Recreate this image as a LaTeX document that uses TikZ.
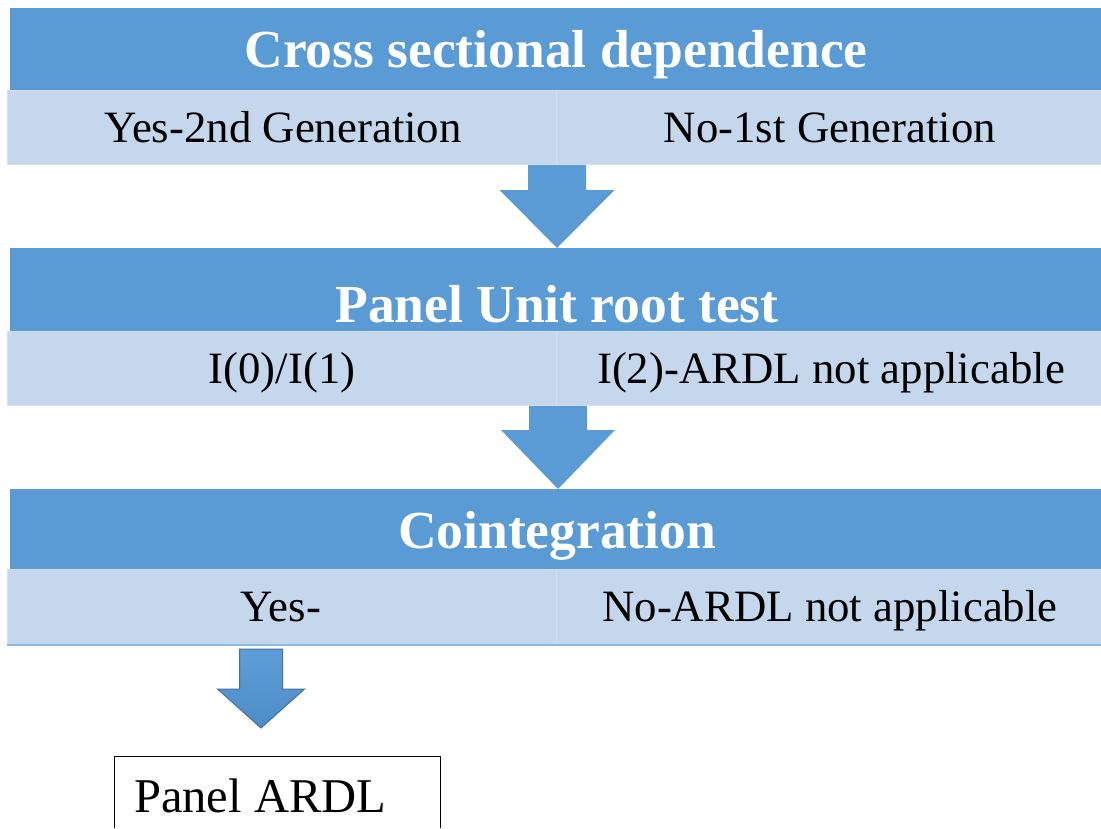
\documentclass[tikz,border=0pt]{standalone}
\usepackage{fontspec}
\setmainfont{Liberation Serif}
\usetikzlibrary{calc}
\definecolor{hdr}{HTML}{5B9BD5}
\definecolor{cell}{HTML}{C5D7EC}
\definecolor{celledge}{HTML}{D3E0F0}
\definecolor{arrowedge}{HTML}{41719C}
\definecolor{arrowtop}{HTML}{5E9DD8}
\definecolor{arrowbot}{HTML}{4E8CC8}
\newcommand{\blkarrow}[6]{%
  \path[#1] ($(#2)+(-#4,0)$) -- ($(#3)+(-#4,-#6)$) -- ($(#3)+(-#5,-#6)$) -- (#3)
    -- ($(#3)+(#5,-#6)$) -- ($(#3)+(#4,-#6)$) -- ($(#2)+(#4,0)$) -- cycle;}
\begin{document}
\begin{tikzpicture}[x=1pt,y=-1pt,
  hdrbox/.style={fill=hdr, draw=none, minimum width=1091pt, inner sep=0pt, anchor=north west},
  cellbox/.style={fill=cell, draw=celledge, line width=1pt, inner sep=0pt, anchor=north west},
  hdrtext/.style={text=white, font=\fontsize{53.5}{60}\selectfont\bfseries, inner sep=0pt, anchor=base},
  celltext/.style={text=black, font=\fontsize{44.8}{50}\selectfont, inner sep=0pt, anchor=base},
  flowarrow/.style={fill=hdr},
  smallarrow/.style={top color=arrowtop, bottom color=arrowbot, draw=arrowedge, line width=1pt, line join=miter}
]
\useasboundingbox (0,0) rectangle (1101,828);
\fill[white] (0,0) rectangle (1101,828);

% block 1
\node[hdrbox, minimum height=82pt] (h1) at (10,8) {};
\node[cellbox, minimum width=549pt, minimum height=74pt] (c1l) at (7,90) {};
\node[cellbox, minimum width=546pt, minimum height=74pt] (c1r) at (556,90) {};
\node[hdrtext] (t1) at (556,67) {Cross sectional dependence};
\node[celltext] (t1l) at (283,142) {Yes-2nd Generation};
\node[celltext] (t1r) at (830,142) {No-1st Generation};

% block 2
\node[hdrbox, minimum height=83pt] (h2) at (10,248) {};
\node[cellbox, minimum width=549pt, minimum height=74pt] (c2l) at (7,331) {};
\node[cellbox, minimum width=546pt, minimum height=74pt] (c2r) at (556,331) {};
\node[hdrtext] (t2) at (557,322) {Panel Unit root test};
\node[celltext] (t2l) at (282,383) {I(0)/I(1)};
\node[celltext] (t2r) at (831,383) {I(2)-ARDL not applicable};

% block 3
\node[hdrbox, minimum height=80pt] (h3) at (10,489) {};
\node[cellbox, minimum width=549pt, minimum height=75pt] (c3l) at (7,569) {};
\node[cellbox, minimum width=546pt, minimum height=75pt] (c3r) at (556,569) {};
\draw[hdr!70, line width=1.2pt] (c3l.south west) -- (c3r.south east);
\node[hdrtext] (t3) at (557,548) {Cointegration};
\node[celltext] (t3l) at (281,621) {Yes-};
\node[celltext] (t3r) at (830,621) {No-ARDL not applicable};

% arrows between blocks
\coordinate (a1top) at (c1l.south east);
\coordinate (a1tip) at (h2.north -| a1top);
\blkarrow{flowarrow}{a1top}{a1tip}{29}{57.5}{58}
\coordinate (a2top) at ($(c2l.south east)+(1,0)$);
\coordinate (a2tip) at (h3.north -| a2top);
\blkarrow{flowarrow}{a2top}{a2tip}{29}{57}{59}

% small arrow to Panel ARDL
\coordinate (a3top) at (261,649);
\coordinate (a3tip) at (261,728);
\blkarrow{smallarrow}{a3top}{a3tip}{21.5}{43.5}{39}

% Panel ARDL box (cut off by the lower edge)
\node[anchor=north west, minimum width=326pt, minimum height=72pt, inner sep=0pt] (ardl) at (114,756) {};
\draw[black, line width=1pt] (ardl.south west) -- (ardl.north west) -- (ardl.north east) -- (ardl.south east);
\node[text=black, font=\fontsize{48.5}{52}\selectfont, inner sep=0pt, anchor=base west] (ardlt) at (134,812) {Panel ARDL};
\end{tikzpicture}
\end{document}
